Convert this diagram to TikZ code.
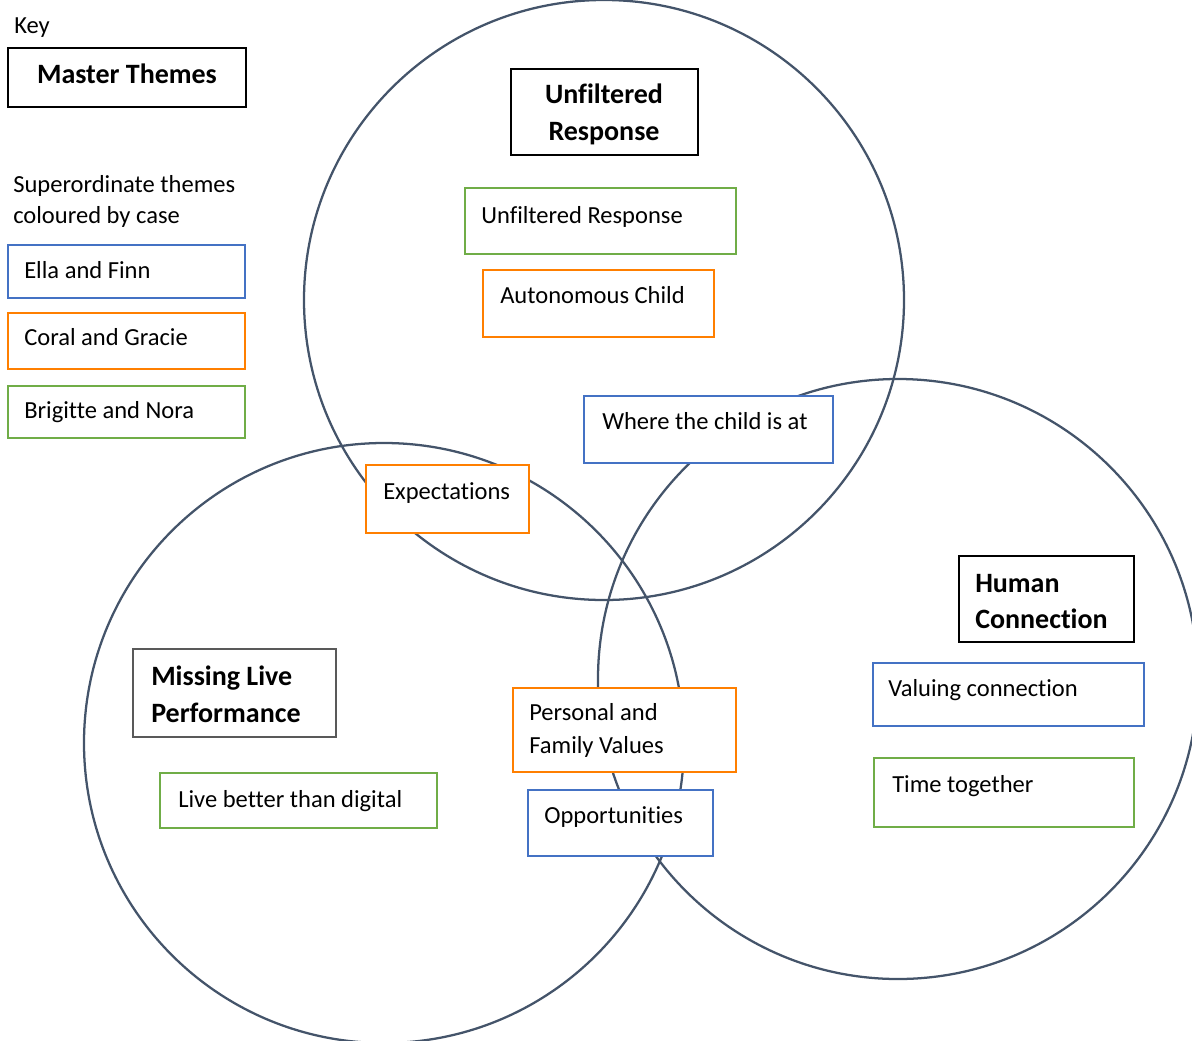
\documentclass[tikz,border=0pt]{standalone}
\usepackage{fontspec}
\setmainfont{Carlito}[Ligatures={NoCommon}]
\usetikzlibrary{fit}
\definecolor{circ}{HTML}{44546A}
\definecolor{cblue}{HTML}{4472C4}
\definecolor{corange}{HTML}{FF7F00}
\definecolor{cgreen}{HTML}{70AD47}
\definecolor{mgray}{HTML}{595959}
\tikzset{
  ring/.style={draw=circ, line width=1.7pt},
  box/.style={draw=#1, fill=white, inner sep=0pt, line width=1.7pt},
  master/.style={draw=black, fill=white, inner sep=0pt, line width=1pt},
  txt/.style={anchor=base west, inner sep=0pt, font=\fontsize{18.4}{24}\selectfont, text=black},
  btxt/.style={anchor=base west, inner sep=0pt, font=\bfseries\fontsize{21}{28}\selectfont, text=black},
  bctxt/.style={anchor=base, inner sep=0pt, font=\bfseries\fontsize{21}{28}\selectfont, text=black},
}
\begin{document}
\begin{tikzpicture}[x=0.75pt, y=-0.75pt]
\useasboundingbox (0,0) rectangle (1192,1040);
\clip (0,0) rectangle (1192,1040);
% circles
\draw[ring] (604,300) circle[radius=225pt];
\draw[ring] (384,743) circle[radius=225pt];
\draw[ring] (898,679) circle[radius=225pt];

% key
\node[txt] (key) at (14,33) {Key};
\node[master, fit={(8,48) (246,107)}] (mt) {};
\node[bctxt] (mtt) at (127,83) {Master Themes};
\node[txt] (sup1) at (13,192) {Superordinate themes};
\node[txt] (sup2) at (13,223) {coloured by case};
\node[box=cblue, fit={(8,245) (245,298)}] (ef) {};
\node[txt] (eft) at (24,278) {Ella and Finn};
\node[box=corange, fit={(8,313) (245,369)}] (cg) {};
\node[txt] (cgt) at (24,345) {Coral and Gracie};
\node[box=cgreen, fit={(8,386) (245,438)}] (bn) {};
\node[txt] (bnt) at (24,418) {Brigitte and Nora};

% Unfiltered Response circle
\node[master, fit={(511,69) (698,155)}] (ur) {};
\node[bctxt] (ur1) at (604,103) {Unfiltered};
\node[bctxt] (ur2) at (604,140) {Response};
\node[box=cgreen, fit={(465,188) (736,254)}] (urg) {};
\node[txt] (urgt) at (481,223) {Unfiltered Response};
\node[box=corange, fit={(483,270) (714,337)}] (ac) {};
\node[txt] (act) at (500,303) {Autonomous Child};

% overlaps
\node[box=cblue, fit={(584,396) (833,463)}] (wc) {};
\node[txt] (wct) at (602,429) {Where the child is at};
\node[box=corange, fit={(366,465) (529,533)}] (ex) {};
\node[txt] (ext) at (383,499) {Expectations};
\node[box=corange, fit={(513,688) (736,772)}] (pf) {};
\node[txt] (pf1) at (529,720) {Personal and};
\node[txt] (pf2) at (529,753) {Family Values};
\node[box=cblue, fit={(528,790) (713,856)}] (op) {};
\node[txt] (opt) at (544,823) {Opportunities};

% Human Connection
\node[master, fit={(959,556) (1134,642)}] (hc) {};
\node[btxt] (hc1) at (975,592) {Human};
\node[btxt] (hc2) at (975,628) {Connection};
\node[box=cblue, fit={(873,663) (1144,726)}] (vc) {};
\node[txt] (vct) at (888,696) {Valuing connection};
\node[box=cgreen, fit={(874,758) (1134,827)}] (tt) {};
\node[txt] (ttt) at (892,792) {Time together};

% Missing Live Performance
\node[master, draw=mgray, line width=1.6pt, fit={(133,649) (336,737)}] (ml) {};
\node[btxt] (ml1) at (151,685) {Missing Live};
\node[btxt] (ml2) at (151,722) {Performance};
\node[box=cgreen, fit={(160,773) (437,828)}] (lb) {};
\node[txt] (lbt) at (178,807) {Live better than digital};
\end{tikzpicture}
\end{document}
